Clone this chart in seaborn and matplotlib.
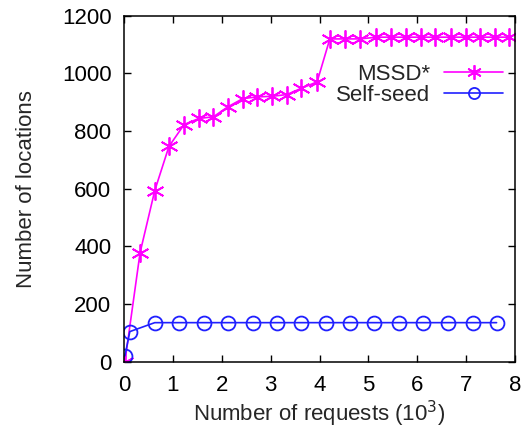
import matplotlib
matplotlib.use("Agg")
import matplotlib.pyplot as plt
import seaborn as sns
import pandas as pd

mssd_x = [0.02, 0.33, 0.63, 0.92, 1.23, 1.53, 1.83, 2.12, 2.43, 2.73, 3.03, 3.33,
          3.63, 3.95, 4.21, 4.53, 4.83, 5.16, 5.46, 5.76, 6.07, 6.37, 6.68, 6.99,
          7.29, 7.59, 7.88]
mssd_y = [0, 378, 593, 746, 822, 843, 849, 883, 912, 918, 920, 926,
          948, 970, 1119, 1119, 1119, 1125, 1125, 1125, 1125, 1125, 1125, 1125,
          1125, 1125, 1125]
self_x = [0.02, 0.12, 0.63, 1.13, 1.64, 2.13, 2.63, 3.14, 3.63, 4.13, 4.62, 5.12,
          5.62, 6.12, 6.63, 7.13, 7.62]
self_y = [20, 104, 135, 135, 135, 135, 135, 135, 135, 135, 135, 135,
          135, 135, 135, 135, 135]
x_ticks = [0, 1, 2, 3, 4, 5, 6, 7, 8]
y_ticks = [0, 200, 400, 600, 800, 1000, 1200]

sns.set_style("ticks")
plt.rcParams['font.family'] = ['Liberation Sans', 'DejaVu Sans']
FS = 16

fig = plt.figure(figsize=(5.23, 4.32), dpi=100)
ax = fig.add_axes([0.237, 0.163, 0.748, 0.801])

df1 = pd.DataFrame({"x": mssd_x, "y": mssd_y})
df2 = pd.DataFrame({"x": self_x, "y": self_y})

sns.lineplot(data=df1, x="x", y="y", ax=ax, color="#ff00ff", lw=1.2,
             marker=(6, 2, 0), markersize=13, markeredgewidth=1.3,
             markeredgecolor="#ff00ff", label="MSSD*", sort=False)
sns.lineplot(data=df2, x="x", y="y", ax=ax, color="#2020ff", lw=1.2,
             marker="o", markersize=10, markerfacecolor="none",
             markeredgewidth=1.3, markeredgecolor="#2020ff", label="Self-seed", sort=False)

ax.set_xlim(0, 8)
ax.set_ylim(0, 1200)
ax.set_xticks(x_ticks)
ax.set_yticks(y_ticks)
ax.tick_params(direction="in", length=5, width=1, top=True, right=True,
               labelsize=FS, colors="black")
ax.tick_params(axis="x", pad=10)
ax.tick_params(axis="y", pad=9)
for s in ax.spines.values():
    s.set_visible(True)
    s.set_linewidth(1.1)
    s.set_color("black")
ax.set_xlabel("Number of requests (10$^3$)", fontsize=FS, labelpad=2)
ax.set_ylabel("Number of locations", fontsize=FS, labelpad=18)

ax.legend(loc="upper right", bbox_to_anchor=(1.0, 0.895), frameon=False,
          markerfirst=False, fontsize=FS, handlelength=2.65, markerscale=0.8,
          handletextpad=0.63, labelspacing=0.0, borderaxespad=0.14)

fig.savefig("out.png", dpi=100)
